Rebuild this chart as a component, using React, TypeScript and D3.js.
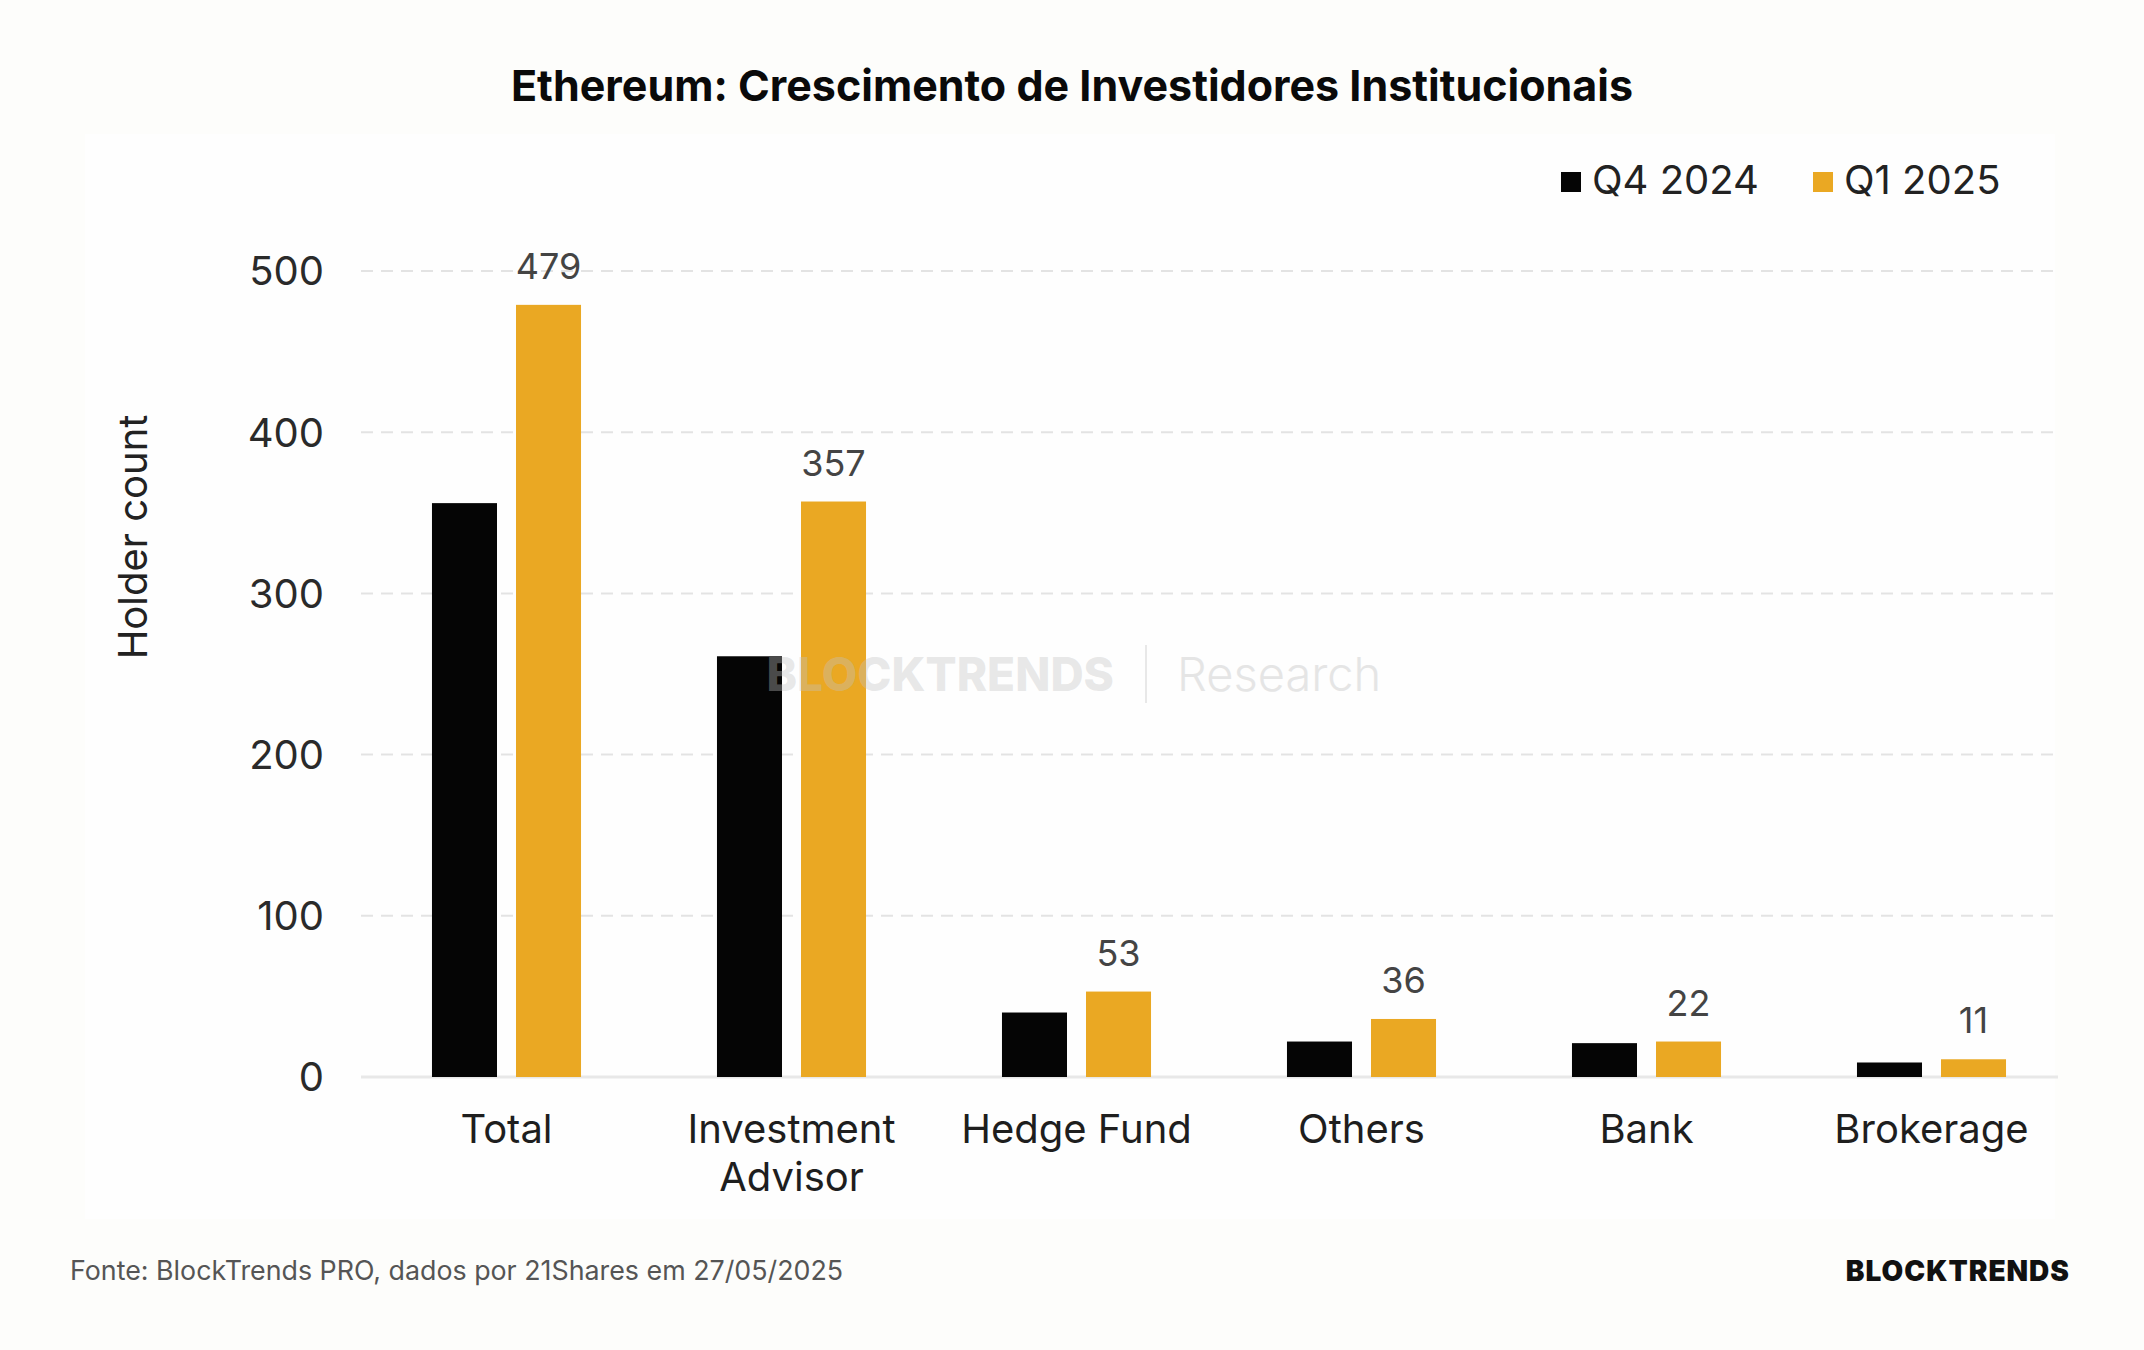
import { useEffect, useRef } from "react";
import * as d3 from "d3";

const CATEGORIES = ["Total", "Investment Advisor", "Hedge Fund", "Others", "Bank", "Brokerage"];
const SERIES = ["Q4 2024", "Q1 2025"];
const Q4_2024 = [356, 261, 40, 22, 21, 9];
const Q1_2025 = [479, 357, 53, 36, 22, 11];
const Y_TICKS = [0, 100, 200, 300, 400, 500];

const COLORS = ["#050505", "#eaa823"];
const FONT = "Inter, 'Noto Sans', sans-serif";

const W = 2144;
const H = 1350;

export default function App() {
  const svgRef = useRef<SVGSVGElement>(null);

  useEffect(() => {
    document.body.style.margin = "0";
    const svgEl = svgRef.current;
    if (!svgEl) return;

    const margin = { top: 271, right: 86, bottom: 273, left: 361 };
    const innerW = W - margin.left - margin.right;
    const innerH = H - margin.top - margin.bottom;

    const svg = d3.select(svgEl);
    svg.selectAll("*").remove();

    svg.append("rect").attr("width", W).attr("height", H).attr("fill", "#fdfdfb");
    svg.append("rect").attr("x", 85).attr("y", 134).attr("width", 1970).attr("height", 1085).attr("fill", "#fefefe");

    // title
    svg
      .append("text")
      .attr("x", W / 2)
      .attr("y", 101)
      .attr("text-anchor", "middle")
      .attr("font-family", FONT)
      .attr("font-weight", 700)
      .attr("font-size", 43)
      .attr("fill", "#0a0a0a")
      .text("Ethereum: Crescimento de Investidores Institucionais");

    // category bands run a little past the gridlines on the right
    const x0 = d3.scaleBand().domain(CATEGORIES).range([3, 1713]).paddingInner(0.477).paddingOuter(0.2385);
    const x1 = d3.scaleBand().domain(SERIES).range([0, x0.bandwidth()]).paddingInner(0.226);
    const y = d3.scaleLinear().domain([0, 500]).range([innerH, 0]);

    const root = svg.append("g").attr("transform", `translate(${margin.left},${margin.top})`);

    // gridlines
    root
      .append("g")
      .selectAll("line")
      .data(Y_TICKS.filter((t) => t > 0))
      .join("line")
      .attr("x1", 0)
      .attr("x2", innerW)
      .attr("y1", (d) => y(d))
      .attr("y2", (d) => y(d))
      .attr("stroke", "#e3e3e3")
      .attr("stroke-width", 2)
      .attr("stroke-dasharray", "12,8");

    root
      .append("line")
      .attr("x1", 0)
      .attr("x2", innerW)
      .attr("y1", y(0))
      .attr("y2", y(0))
      .attr("stroke", "#e8e8e8")
      .attr("stroke-width", 3);

    // y ticks
    root
      .append("g")
      .selectAll("text")
      .data(Y_TICKS)
      .join("text")
      .attr("x", -37)
      .attr("y", (d) => y(d))
      .attr("dy", "0.36em")
      .attr("text-anchor", "end")
      .attr("font-family", FONT)
      .attr("font-size", 40)
      .attr("fill", "#2a2a2a")
      .text((d) => d);

    svg
      .append("text")
      .attr("transform", `translate(147,537) rotate(-90)`)
      .attr("text-anchor", "middle")
      .attr("font-family", FONT)
      .attr("font-size", 40)
      .attr("fill", "#222")
      .text("Holder count");

    // bars
    const values = [Q4_2024, Q1_2025];
    const groups = root
      .selectAll("g.cat")
      .data(CATEGORIES)
      .join("g")
      .attr("class", "cat")
      .attr("transform", (d) => `translate(${x0(d)},0)`);

    groups.each(function (cat, i) {
      const g = d3.select(this);
      SERIES.forEach((s, k) => {
        const v = values[k][i];
        g.append("rect")
          .attr("x", x1(s) ?? 0)
          .attr("width", x1.bandwidth())
          .attr("y", y(v))
          .attr("height", y(0) - y(v))
          .attr("fill", COLORS[k]);
      });
      const v = Q1_2025[i];
      g.append("text")
        .attr("x", (x1(SERIES[1]) ?? 0) + x1.bandwidth() / 2)
        .attr("y", y(v) - 26)
        .attr("text-anchor", "middle")
        .attr("font-family", FONT)
        .attr("font-size", 36)
        .attr("fill", "#444")
        .text(v);

      const lines = cat === "Investment Advisor" ? ["Investment", "Advisor"] : [cat];
      const t = g
        .append("text")
        .attr("x", x0.bandwidth() / 2)
        .attr("y", innerH + 66)
        .attr("text-anchor", "middle")
        .attr("font-family", FONT)
        .attr("font-size", 40)
        .attr("fill", "#1e1e1e");
      lines.forEach((l, j) => {
        t.append("tspan")
          .attr("x", x0.bandwidth() / 2)
          .attr("dy", j === 0 ? 0 : 48)
          .text(l);
      });
    });

    // legend
    const legend = svg.append("g").attr("transform", "translate(1561,0)");
    const legendX = [0, 252];
    SERIES.forEach((s, k) => {
      legend
        .append("rect")
        .attr("x", legendX[k])
        .attr("y", 172)
        .attr("width", 20)
        .attr("height", 20)
        .attr("fill", COLORS[k]);
      legend
        .append("text")
        .attr("x", legendX[k] + 31)
        .attr("y", 194)
        .attr("font-family", FONT)
        .attr("font-size", 40)
        .attr("fill", "#222")
        .text(s);
    });

    // watermark
    const wm = svg.append("g").attr("opacity", 0.9);
    wm.append("text")
      .attr("x", 1114)
      .attr("y", 691)
      .attr("text-anchor", "end")
      .attr("font-family", FONT)
      .attr("font-weight", 800)
      .attr("font-size", 46)
      .attr("fill", "rgba(195,195,195,0.42)")
      .text("BLOCKTRENDS");
    wm.append("line")
      .attr("x1", 1146)
      .attr("x2", 1146)
      .attr("y1", 645)
      .attr("y2", 703)
      .attr("stroke", "#e6e6e6")
      .attr("stroke-width", 2);
    wm.append("text")
      .attr("x", 1177)
      .attr("y", 691)
      .attr("font-family", FONT)
      .attr("font-weight", 300)
      .attr("font-size", 47)
      .attr("fill", "#e3e3e3")
      .text("Research");

    // footer
    svg
      .append("text")
      .attr("x", 70)
      .attr("y", 1280)
      .attr("font-family", FONT)
      .attr("font-size", 26.8)
      .attr("fill", "#555")
      .text("Fonte: BlockTrends PRO, dados por 21Shares em 27/05/2025");

    svg
      .append("text")
      .attr("x", 2070)
      .attr("y", 1281)
      .attr("text-anchor", "end")
      .attr("font-family", FONT)
      .attr("font-weight", 900)
      .attr("font-size", 28)
      .attr("letter-spacing", 1)
      .attr("fill", "#111")
      .text("BLOCKTRENDS");
  }, []);

  return <svg ref={svgRef} width={W} height={H} style={{ display: "block" }} />;
}
